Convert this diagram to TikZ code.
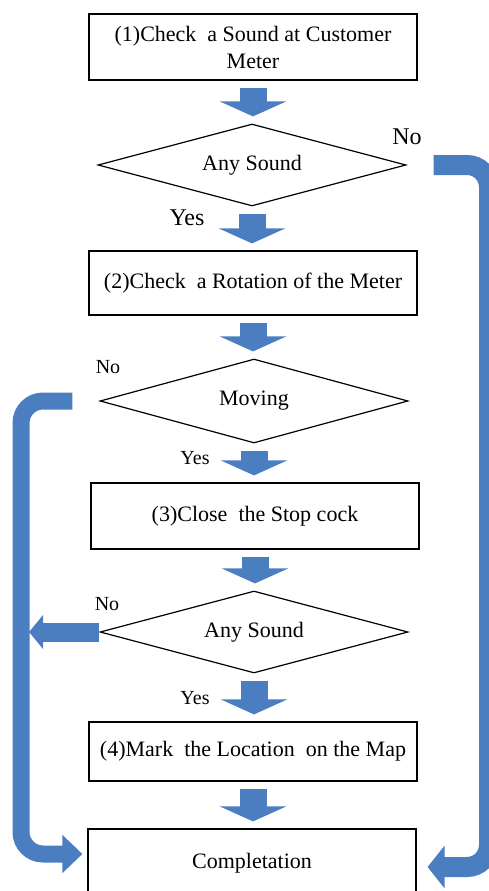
\documentclass[tikz,border=0pt]{standalone}
\usepackage{fontspec}
\setmainfont{Liberation Serif}
\usepackage{xcolor}
\usetikzlibrary{shapes.geometric, arrows.meta, calc}

\definecolor{flowblue}{RGB}{74,126,193}

\tikzset{
  procbox/.style={draw, line width=1.2pt, minimum width=328pt, inner sep=0pt,
    align=center, font=\fontsize{22}{27}\selectfont},
  decision/.style={draw, diamond, line width=1.2pt, aspect=3.75, minimum width=308pt,
    inner sep=0pt, font=\fontsize{22}{27}\selectfont},
  downarrow/.style={flowblue, line width=27pt, -{Triangle[length=15pt, width=66pt]},
    shorten <=7pt, shorten >=7pt},
  loopline/.style={flowblue, rounded corners=22pt},
  lbl/.style={inner sep=0pt, font=\fontsize{24}{26}\selectfont},
  lblsmall/.style={inner sep=0pt, font=\fontsize{20}{22}\selectfont},
}

\begin{document}
\begin{tikzpicture}[x=1pt, y=-1pt]
  \useasboundingbox (0,0) rectangle (489,891);
  \clip (0,0) rectangle (489,891);

  % ── Steps and checks ──
  \node[procbox, minimum height=66pt] (check) at (253,47) {(1)Check~ a Sound at Customer\\Meter};
  \node[decision, minimum height=82pt] (sound) at (252,165) {Any Sound};
  \node[procbox, minimum height=64pt] (rotation) at (253,283) {(2)Check~ a Rotation of the Meter};
  \node[decision, minimum height=84pt] (moving) at (254,401) {Moving};
  \node[procbox, minimum height=66pt] (stopcock) at (255,516) {(3)Close~ the Stop cock};
  \node[decision, minimum height=82pt] (stopsound) at (254,632) {Any Sound};
  \node[procbox, minimum height=59pt] (mark) at (253,751.5) {(4)Mark~ the Location~ on the Map};
  \node[procbox, minimum height=68pt] (done) at (252,863) {Completation};

  % ── Yes / No labels ──
  \node[lbl] (no1) at (407,137) {No};
  \node[lbl] (yes1) at (187,218) {Yes};
  \node[lblsmall] (no2) at (108,367) {No};
  \node[lblsmall] (yes2) at (195,458) {Yes};
  \node[lblsmall] (no3) at (107,604) {No};
  \node[lblsmall] (yes3) at (195,698) {Yes};

  % ── Main flow ──
  \draw[downarrow] (check.south) -- (check.south |- sound.north);
  \draw[downarrow] (sound.south) -- (sound.south |- rotation.north);
  \draw[downarrow] (rotation.south) -- (rotation.south |- moving.north);
  \draw[downarrow] (moving.south) -- (moving.south |- stopcock.north);
  \draw[downarrow] (stopcock.south) -- (stopcock.south |- stopsound.north);
  \draw[downarrow] (stopsound.south) -- (stopsound.south |- mark.north);
  \draw[downarrow] (mark.south) -- (mark.south |- done.north);

  % ── Side rails ──
  \coordinate (railL) at (21,0);
  \coordinate (railR) at (489,0);

  \draw[loopline, line width=20pt, -{Triangle[length=17pt, width=42pt]}, shorten >=11pt]
    ([xshift=27pt]sound.east) -- (railR |- sound.east)
    -- ($(railR |- done.east)+(0,4)$) -- ([yshift=-4pt]done.east);

  \draw[loopline, line width=17pt, -{Triangle[length=20pt, width=37pt]}, shorten >=5pt]
    ([xshift=-27pt]moving.west) -- (railL |- moving.west)
    -- ($(railL |- done.west)+(0,-9)$) -- ([yshift=9pt]done.west);

  \draw[flowblue, line width=19pt, -{Triangle[length=14pt, width=33pt]}]
    (stopsound.west) -- ([xshift=8pt]railL |- stopsound.west);

\end{tikzpicture}
\end{document}
